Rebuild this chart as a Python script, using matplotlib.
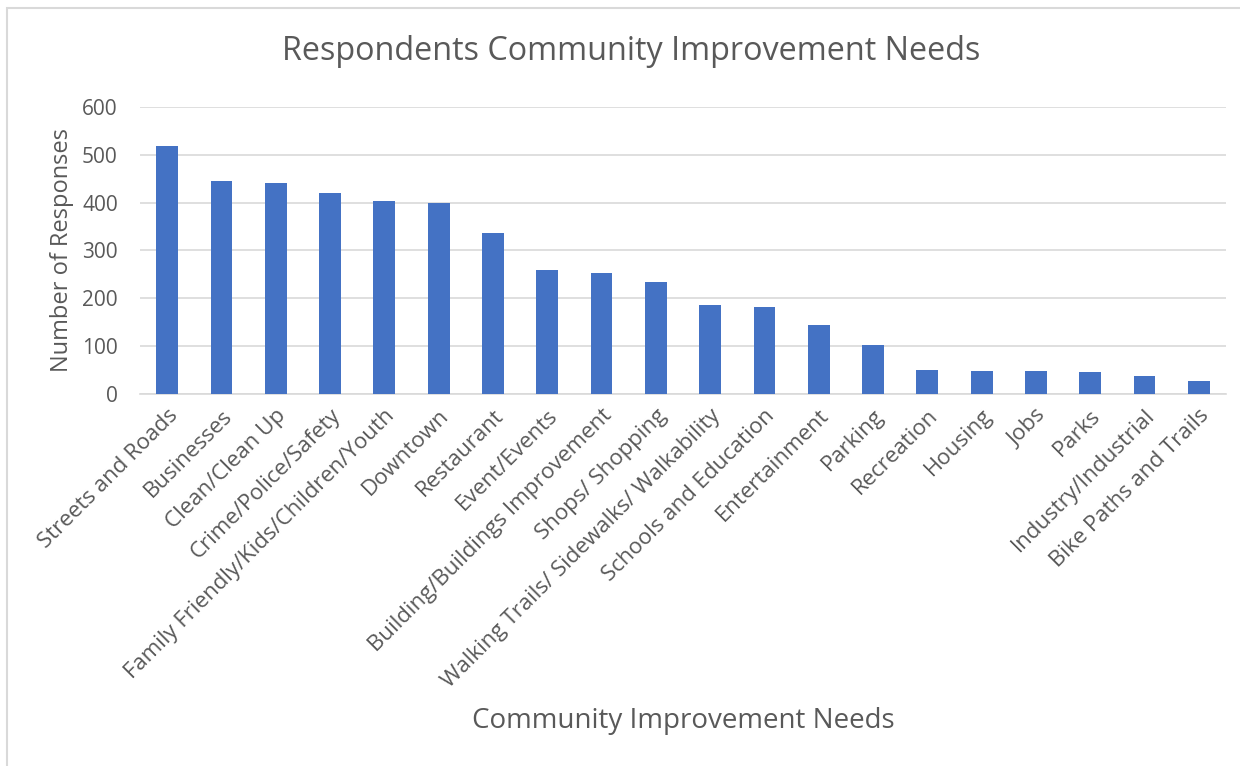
import matplotlib.pyplot as plt
from matplotlib.patches import Rectangle

# --- data ---
categories = [
    "Streets and Roads", "Businesses", "Clean/Clean Up", "Crime/Police/Safety",
    "Family Friendly/Kids/Children/Youth", "Downtown", "Restaurant", "Event/Events",
    "Building/Buildings Improvement", "Shops/ Shopping", "Walking Trails/ Sidewalks/ Walkability",
    "Schools and Education", "Entertainment", "Parking", "Recreation", "Housing",
    "Jobs", "Parks", "Industry/Industrial", "Bike Paths and Trails",
]
responses = [518, 445, 442, 421, 404, 399, 336, 260, 253, 234,
             187, 182, 144, 102, 51, 49, 49, 45, 38, 27]
yticks = [0, 100, 200, 300, 400, 500, 600]

text_color = "#595959"
bar_color = "#4472C4"
grid_color = "#D9D9D9"

plt.rcParams['font.family'] = ['Open Sans', 'DejaVu Sans']

fig = plt.figure(figsize=(12.4, 7.66), dpi=100)
ax = fig.add_axes([140 / 1240, 1 - 394 / 766, (1226 - 140) / 1240, (394 - 107) / 766])

x = range(len(categories))
ax.bar(x, responses, width=0.4, color=bar_color, zorder=3)

ax.set_xlim(-0.5, len(categories) - 0.5)
ax.set_ylim(0, 600)
ax.set_yticks(yticks)
ax.set_yticklabels([str(t) for t in yticks], fontsize=15, color=text_color)
ax.yaxis.grid(True, color=grid_color, linewidth=1.2, zorder=0)
ax.tick_params(axis='y', length=0, pad=16)

ax.set_xticks(list(x))
ax.set_xticklabels(categories, rotation=45, ha='right', rotation_mode='anchor',
                   fontsize=16, color=text_color)
ax.tick_params(axis='x', length=0, pad=8)

for side in ['top', 'right', 'left']:
    ax.spines[side].set_visible(False)
ax.spines['bottom'].set_color(grid_color)
ax.spines['bottom'].set_linewidth(1.2)

fig.text(62 / 1240, 1 - 250 / 766, "Number of Responses", fontsize=17,
         color=text_color, ha='center', va='center', rotation=90)
fig.text(683 / 1240, 1 - 721 / 766, "Community Improvement Needs", fontsize=20,
         color=text_color, ha='center', va='center')
fig.text(631 / 1240, 1 - 52 / 766, "Respondents Community Improvement Needs", fontsize=23.3,
         color=text_color, ha='center', va='center')

# chart area border (only top and left edges show in the reference crop)
fig.patches.append(Rectangle((7 / 1240, -0.05), 1.1, 1 - 8 / 766 + 0.05,
                             transform=fig.transFigure, fill=False,
                             edgecolor=grid_color, linewidth=1.5))

fig.savefig("out.png", dpi=100)
